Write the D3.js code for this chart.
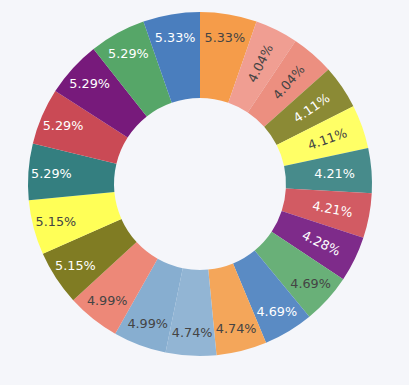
<!DOCTYPE html>
<html>
<head>
<meta charset="utf-8">
<script src="https://cdn.jsdelivr.net/npm/d3@7"></script>
<style>
  html, body { margin: 0; padding: 0; background: #f5f6fa; }
  #chart { width: 409px; height: 385px; }
</style>
</head>
<body>
<div id="chart"></div>
<script>
// slices, clockwise from 12 o'clock
const values = [5.33, 4.04, 4.04, 4.11, 4.11, 4.21, 4.21, 4.28, 4.69, 4.69, 4.74,
                4.74, 4.99, 4.99, 5.15, 5.15, 5.29, 5.29, 5.29, 5.29, 5.33];
const colors = ["#f59c4a", "#f09e92", "#ec8f80", "#8b8a35", "#ffff66", "#478b8b", "#d25b63",
                "#7e2b8a", "#69b078", "#5a8bc4", "#f4a65a", "#92b5d4", "#87aed0", "#ed8878",
                "#807c23", "#ffff57", "#347f80", "#ca4a55", "#771a7b", "#56a668", "#4a7ebe"];

const width = 409, height = 385;
const cx = 200, cy = 184;
const outerR = 172, innerR = 86;

const svg = d3.select("#chart")
    .append("svg")
    .attr("width", width)
    .attr("height", height);

const g = svg.append("g")
    .attr("transform", `translate(${cx}, ${cy})`);

const pie = d3.pie().sort(null).value(d => d);
const arcs = pie(values);

const arc = d3.arc().innerRadius(innerR).outerRadius(outerR);

// slices
g.selectAll("path")
    .data(arcs)
    .enter()
    .append("path")
    .attr("d", arc)
    .attr("fill", (d, i) => colors[i]);

// pick text colour from slice brightness
function textColor(c) {
    const rgb = d3.rgb(c);
    const b = (rgb.r * 299 + rgb.g * 587 + rgb.b * 114) / 1000;
    return b < 140 ? "#fff" : "#444";
}

// small slices get radial text, the rest horizontal
g.selectAll("text")
    .data(arcs)
    .enter()
    .append("text")
    .attr("transform", d => {
        const mid = (d.startAngle + d.endAngle) / 2;
        let rot = 0;
        let r = 149;
        if (d.value < 4.5) {
            const deg = mid * 180 / Math.PI;
            rot = deg < 180 ? deg - 90 : deg - 270;
            if (Math.abs(rot) < 8) rot = 0;
            r = 135;
        }
        const x = r * Math.sin(mid);
        const y = -r * Math.cos(mid);
        return `translate(${x}, ${y}) rotate(${rot})`;
    })
    .attr("text-anchor", "middle")
    .attr("dy", "0.36em")
    .style("font-family", "DejaVu Sans, Verdana, sans-serif")
    .style("font-size", "12.8px")
    .attr("fill", (d, i) => textColor(colors[i]))
    .text(d => `${d.value.toFixed(2)}%`);
</script>
</body>
</html>
